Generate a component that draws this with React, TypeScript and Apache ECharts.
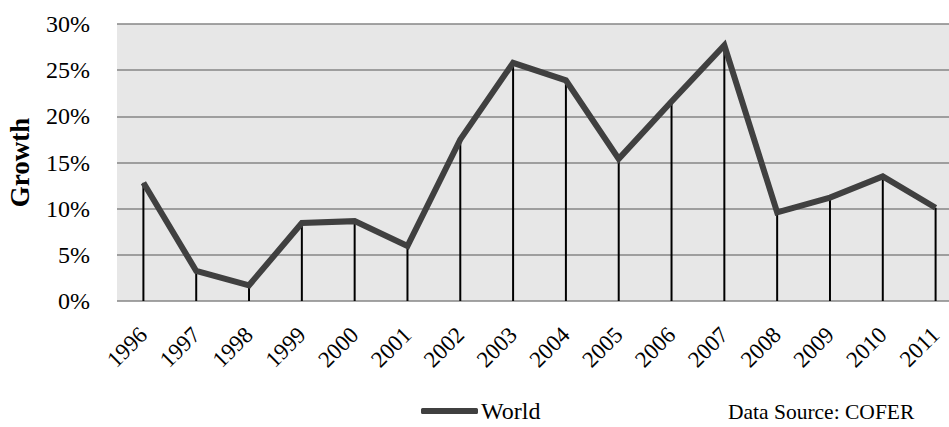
import React, { useEffect, useRef } from "react";
import * as echarts from "echarts";

const years = ["1996","1997","1998","1999","2000","2001","2002","2003","2004","2005","2006","2007","2008","2009","2010","2011"];
const worldGrowth = [12.8, 3.25, 1.7, 8.45, 8.65, 5.95, 17.5, 25.8, 23.9, 15.4, 21.6, 27.7, 9.6, 11.2, 13.5, 10.1];
const yTicks = { min: 0, max: 30, interval: 5 };

export default function App() {
  const ref = useRef<HTMLDivElement>(null);
  useEffect(() => {
    if (!ref.current) return;
    const chart = echarts.init(ref.current, null, { renderer: "svg" });
    const font = "'Liberation Serif', 'Times New Roman', serif";
    chart.setOption({
      animation: false,
      backgroundColor: "#ffffff",
      textStyle: { fontFamily: font },
      grid: {
        left: 117, right: 0, top: 24, bottom: 126,
        show: true, backgroundColor: "#e7e7e7", borderWidth: 0,
        outerBoundsMode: "none",
        containLabel: false,
      },
      legend: {
        data: [{ name: "World", icon: "roundRect" }],
        left: 421, top: 399, padding: 0,
        itemWidth: 57, itemHeight: 6, itemGap: 10,
        textStyle: { fontFamily: font, fontSize: 24, lineHeight: 24, color: "#000", padding: [0, 0, 0, -2] },
      },
      xAxis: {
        type: "category",
        data: years,
        boundaryGap: true,
        axisLine: { show: false },
        axisTick: { show: false },
        axisLabel: { rotate: 45, margin: 30, fontSize: 23, color: "#000", fontFamily: font, interval: 0 },
        splitLine: { show: false },
      },
      yAxis: {
        type: "value",
        min: yTicks.min, max: yTicks.max, interval: yTicks.interval,
        name: "Growth",
        nameLocation: "middle",
        nameGap: 84,
        nameRotate: 90,
        nameTextStyle: { fontFamily: font, fontSize: 27, fontWeight: "bold", color: "#000" },
        axisLine: { show: false },
        axisTick: { show: false },
        axisLabel: { formatter: "{value}%", margin: 27, fontSize: 24, color: "#000", fontFamily: font },
        splitLine: { show: true, lineStyle: { color: "#868686", width: 1.5 } },
      },
      series: [
        {
          name: "drop",
          type: "bar",
          data: worldGrowth,
          barWidth: 2,
          itemStyle: { color: "#000" },
          z: 2,
          legendHoverLink: false,
          silent: true,
        },
        {
          name: "World",
          type: "line",
          data: worldGrowth,
          symbol: "none",
          lineStyle: { color: "#404040", width: 6, join: "miter" },
          itemStyle: { color: "#404040" },
          z: 3,
        },
      ],
      graphic: [
        {
          type: "text",
          left: 728,
          top: 401,
          style: { text: "Data Source: COFER", fontFamily: font, fontSize: 21.5, fill: "#000" },
        },
      ],
    });
    return () => chart.dispose();
  }, []);
  return (
    <div style={{ position: "fixed", left: 0, top: 0, width: 949, height: 427, overflow: "hidden" }}>
      <div ref={ref} style={{ width: 962, height: 427 }} />
    </div>
  );
}
